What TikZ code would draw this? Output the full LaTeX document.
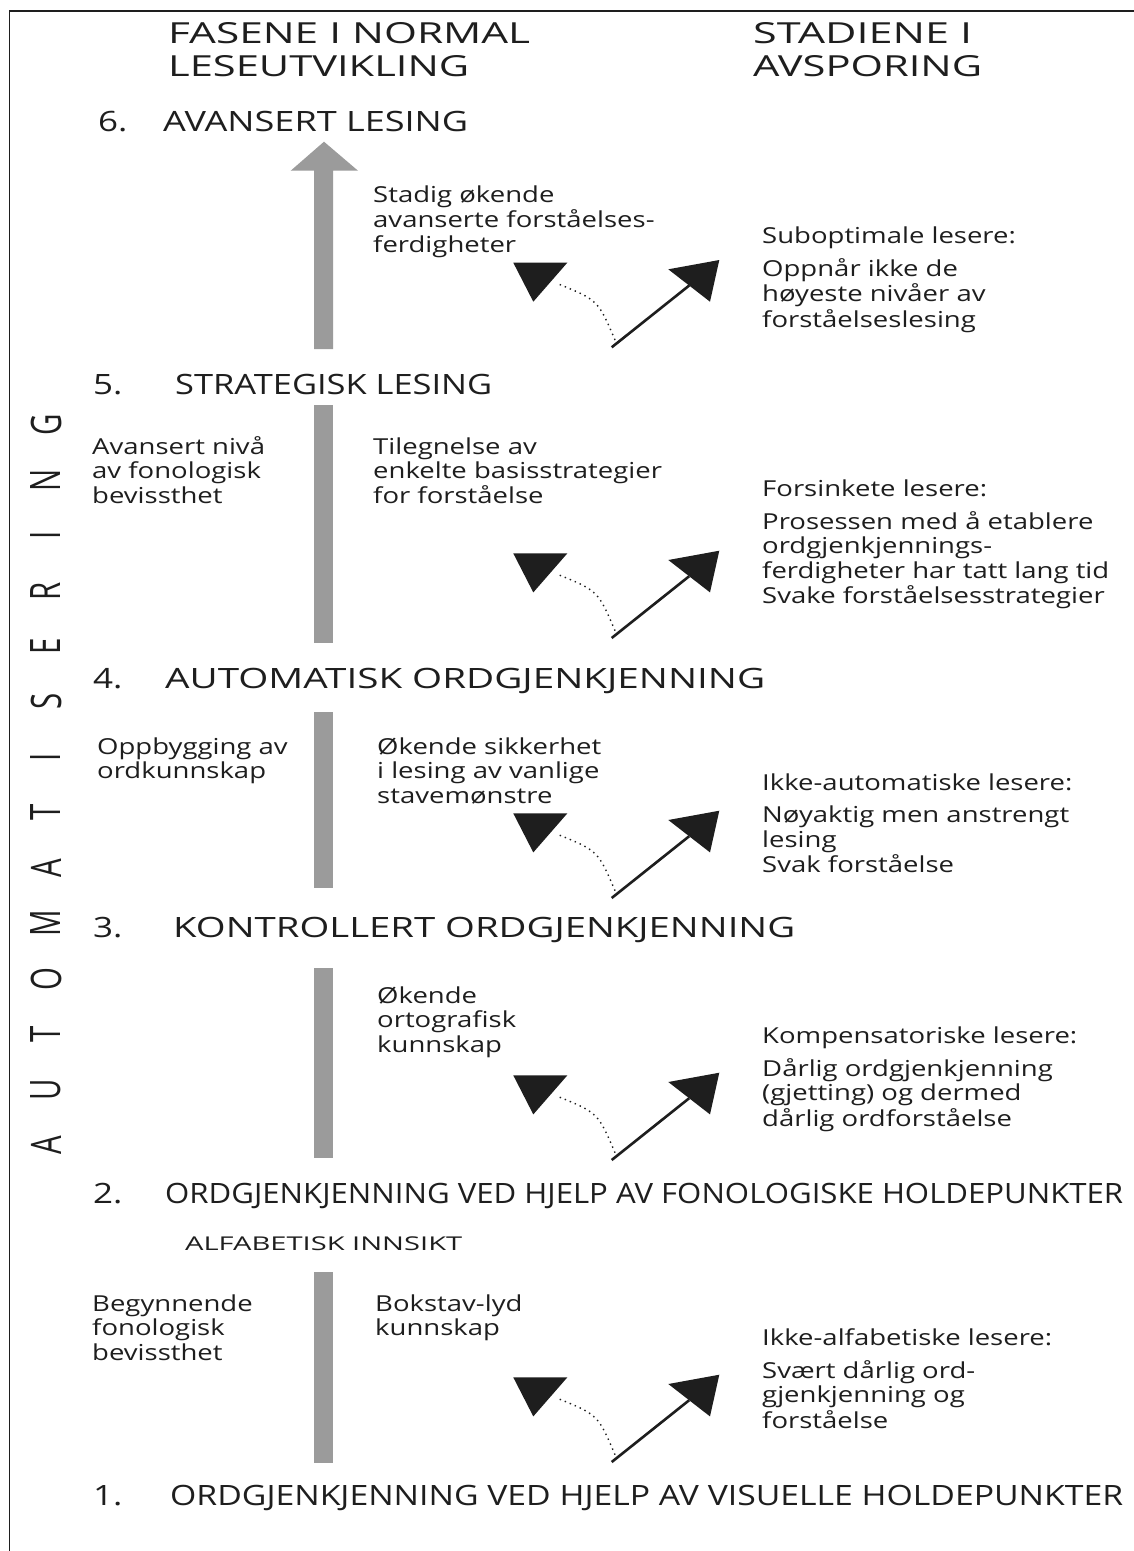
\documentclass[tikz,border=0pt]{standalone}
\usepackage{fontspec}
\usepackage{graphicx}
\setmainfont{Open Sans}[FakeStretch=1.25]
\newfontfamily\condfont{Open Sans}
\newfontfamily\vertfont{Open Sans}
\definecolor{barclr}{RGB}{155,155,155}
\definecolor{ink}{RGB}{30,30,30}
\newcommand\lines[1]{\begin{tabular}[t]{@{}l@{}}#1\end{tabular}}
\newcommand\fitw[2]{\resizebox{#1}{\height}{#2}}
\begin{document}
\begin{tikzpicture}[x=1pt,y=-1pt,
  colhead/.style={anchor=base west, inner sep=0pt, text=ink, font=\fontsize{29}{32.5}\selectfont},
  stage/.style={anchor=base west, inner sep=0pt, text=ink, font=\fontsize{28}{30}\selectfont},
  condhead/.style={anchor=base west, inner sep=0pt, text=ink, font=\fontsize{28}{30}\selectfont},
  smallhead/.style={anchor=base west, inner sep=0pt, text=ink, font=\fontsize{19}{20}\selectfont},
  body/.style={anchor=base west, inner sep=0pt, text=ink, font=\fontsize{22}{24.5}\selectfont},
  vert/.style={rotate=90, inner sep=0pt, anchor=center, text=ink, font=\vertfont\fontsize{42}{42}\selectfont},
  blk/.style={fill=ink},
  dotline/.style={draw=ink, line width=1.4pt, dash pattern=on 1.4pt off 4pt},
  solidline/.style={draw=ink, line width=2.6pt},
  bar/.style={fill=barclr},
  avpair/.pic={
    \fill[blk] (-98.4,-84.6) -- (-44.4,-84.6) -- (-78.4,-45.6) -- cycle;
    \draw[dotline] (3.3,-7.3) .. controls (-13.7,-47.3) .. (-55,-64);
    \draw[solidline] (0,0) -- (77.5,-61.8);
    \fill[blk] (56.6,-78) -- (107.6,-87.3) -- (98.3,-45.6) -- cycle;
  }]
\useasboundingbox (0,0) rectangle (1134,1551);
\fill[white] (0,0) rectangle (1134,1551);
\draw[line width=1.8pt, draw=ink] (9.5,1551) -- (9.5,11) -- (1134,11);

% column headings
\node[colhead] (hleft1) at (168,43) {\fitw{362pt}{FASENE I NORMAL}};
\node[colhead] (hleft2) at (168,76) {\fitw{301pt}{LESEUTVIKLING}};
\node[colhead] (hright1) at (753,43) {\fitw{219pt}{STADIENE I}};
\node[colhead] (hright2) at (753,76) {\fitw{229pt}{AVSPORING}};

% vertical label
\foreach \c [count=\i from 0] in {A,U,T,O,M,A,T,I,S,E,R,I,N,G}
  \node[vert] (auto\i) at ({46},{1145-55.4*\i}) {\scalebox{0.7}[1]{\c}};

% stage titles
\node[stage] (n6) at (98,131) {6.};
\node[stage] (s6) at (163,131) {\fitw{305pt}{AVANSERT LESING}};
\node[stage] (n5) at (93,394) {5.};
\node[stage] (s5) at (175,394) {\fitw{317pt}{STRATEGISK LESING}};
\node[stage] (n4) at (93,688) {4.};
\node[stage] (s4) at (165,688) {\fitw{600pt}{AUTOMATISK ORDGJENKJENNING}};
\node[stage] (n3) at (93,937) {3.};
\node[stage] (s3) at (173,937) {\fitw{622pt}{KONTROLLERT ORDGJENKJENNING}};
\node[stage] (n2) at (93,1203) {2.};
\node[condhead] (s2) at (165,1203) {\fitw{958pt}{\condfont ORDGJENKJENNING VED HJELP AV FONOLOGISKE HOLDEPUNKTER}};
\node[smallhead] (alf) at (185,1250) {\fitw{277pt}{\condfont ALFABETISK INNSIKT}};
\node[stage] (n1) at (93,1505) {1.};
\node[condhead] (s1) at (170,1505) {\fitw{953pt}{\condfont ORDGJENKJENNING VED HJELP AV VISUELLE HOLDEPUNKTER}};

% gray arrow and bars
\fill[bar] (314,349) -- (314,170.7) -- (290.7,170.7) -- (324,141.7) -- (358,170.7) -- (333,170.7) -- (333,349) -- cycle;
\fill[bar] (314,405) rectangle (333,643);
\fill[bar] (314,712) rectangle (333,888);
\fill[bar] (314,968) rectangle (333,1158);
\fill[bar] (314,1272) rectangle (333,1463);

% left column texts
\node[body] (l5) at (92,454) {\lines{Avansert nivå\\av fonologisk\\bevissthet}};
\node[body] (l4) at (97,754) {\lines{Oppbygging av\\ordkunnskap}};
\node[body] (l1) at (92,1311) {\lines{Begynnende\\fonologisk\\bevissthet}};

% middle column texts
\node[body] (m6) at (373,202.7) {\lines{Stadig økende\\avanserte forståelses-\\ferdigheter}};
\node[body] (m5) at (373,454) {\lines{Tilegnelse av\\enkelte basisstrategier\\for forståelse}};
\node[body] (m4) at (377,754) {\lines{Økende sikkerhet\\i lesing av vanlige\\stavemønstre}};
\node[body] (m3) at (377,1003) {\lines{Økende\\ortografisk\\kunnskap}};
\node[body] (m1) at (375,1311) {\lines{Bokstav-lyd\\kunnskap}};

% right column texts
\node[body] (r6) at (762,243.3) {\lines{Suboptimale lesere:\\[8pt]Oppnår ikke de\\høyeste nivåer av\\forståelseslesing}};
\node[body] (r5) at (762,496) {\lines{Forsinkete lesere:\\[8pt]Prosessen med å etablere\\ordgjenkjennings-\\ferdigheter har tatt lang tid\\Svake forståelsesstrategier}};
\node[body] (r4) at (762,790) {\lines{Ikke-automatiske lesere:\\[8pt]Nøyaktig men anstrengt\\lesing\\Svak forståelse}};
\node[body] (r3) at (762,1043) {\lines{Kompensatoriske lesere:\\[8pt]Dårlig ordgjenkjenning\\(gjetting) og dermed\\dårlig ordforståelse}};
\node[body] (r1) at (762,1345) {\lines{Ikke-alfabetiske lesere:\\[8pt]Svært dårlig ord-\\gjenkjenning og\\forståelse}};

% branching arrows
\pic (p6) at (611.7,347.3) {avpair};
\pic (p5) at (611.7,638) {avpair};
\pic (p4) at (611.7,898) {avpair};
\pic (p3) at (611.7,1160) {avpair};
\pic (p1) at (611.7,1462) {avpair};
\end{tikzpicture}
\end{document}
